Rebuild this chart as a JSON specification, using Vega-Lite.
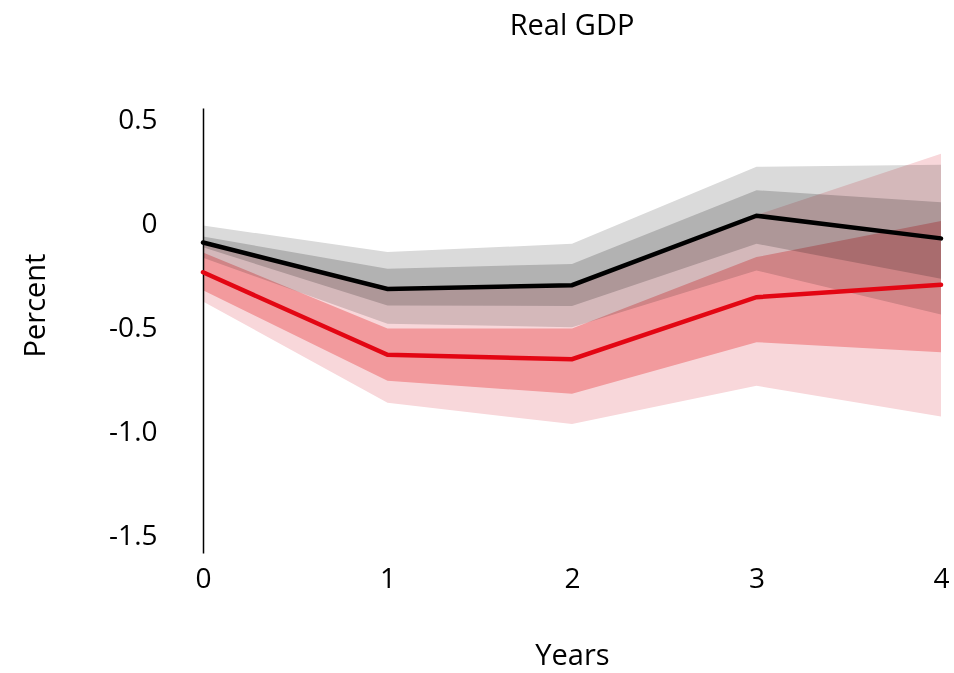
{
  "$schema": "https://vega.github.io/schema/vega-lite/v6.json",
  "width": 738,
  "height": 445,
  "autosize": {"type": "none"},
  "padding": {"left": 203, "top": 108, "right": 13, "bottom": 120},
  "background": "white",
  "title": {"text": "Real GDP", "anchor": "middle", "fontSize": 29, "font": "Open Sans", "fontWeight": "normal", "color": "black", "offset": 65},
  "config": {"view": {"stroke": null}},
  "data": {"values": [
    {"year": 0, "g_hi90": -0.005, "g_hi68": -0.058, "g": -0.087, "g_lo68": -0.11, "g_lo90": -0.16, "r_hi90": -0.09, "r_hi68": -0.135, "r": -0.23, "r_lo68": -0.317, "r_lo90": -0.37},
    {"year": 1, "g_hi90": -0.133, "g_hi68": -0.213, "g": -0.31, "g_lo68": -0.39, "g_lo90": -0.478, "r_hi90": -0.30, "r_hi68": -0.50, "r": -0.627, "r_lo68": -0.752, "r_lo90": -0.858},
    {"year": 2, "g_hi90": -0.093, "g_hi68": -0.19, "g": -0.292, "g_lo68": -0.392, "g_lo90": -0.494, "r_hi90": -0.30, "r_hi68": -0.50, "r": -0.648, "r_lo68": -0.814, "r_lo90": -0.96},
    {"year": 3, "g_hi90": 0.277, "g_hi68": 0.165, "g": 0.042, "g_lo68": -0.093, "g_lo90": -0.221, "r_hi90": 0.045, "r_hi68": -0.157, "r": -0.35, "r_lo68": -0.566, "r_lo90": -0.776},
    {"year": 4, "g_hi90": 0.287, "g_hi68": 0.107, "g": -0.067, "g_lo68": -0.261, "g_lo90": -0.433, "r_hi90": 0.34, "r_hi68": 0.016, "r": -0.29, "r_lo68": -0.614, "r_lo90": -0.923}
  ]},
  "encoding": {
    "x": {"field": "year", "type": "quantitative",
      "scale": {"domain": [0, 4], "nice": false, "zero": false},
      "axis": {"title": "Years", "domain": false, "ticks": false, "grid": false, "values": [0, 1, 2, 3, 4], "format": "d", "labelFlush": false,
        "labelFontSize": 28, "labelFont": "Open Sans", "labelColor": "black", "labelPadding": 12,
        "titleFontSize": 29, "titleFont": "Open Sans", "titleFontWeight": "normal", "titleColor": "black", "titleY": 102, "titleBaseline": "middle"}}
  },
  "layer": [
    {"mark": {"type": "area", "color": "#f8d7da", "blend": "multiply", "opacity": 1},
     "encoding": {
       "y": {"field": "r_lo90", "type": "quantitative",
         "scale": {"domain": [-1.58, 0.56], "nice": false, "zero": false},
         "axis": {"title": "Percent", "values": [0.5, 0, -0.5, -1, -1.5], "grid": false, "ticks": false,
           "domain": true, "domainColor": "black", "domainWidth": 1.5,
           "labelExpr": "datum.value == 0 ? '0' : replace(format(datum.value, '.1f'), '\u2212', '-')",
           "labelFontSize": 28, "labelFont": "Open Sans", "labelColor": "black", "labelPadding": 46,
           "titleFontSize": 29, "titleFont": "Open Sans", "titleFontWeight": "normal", "titleColor": "black",
           "titleAngle": -90, "titleX": -168, "titleY": 197, "titleAlign": "center", "titleBaseline": "middle"}},
       "y2": {"field": "r_hi90"}}},
    {"mark": {"type": "area", "color": "#f9b7b8", "blend": "multiply", "opacity": 1},
     "encoding": {"y": {"field": "r_lo68", "type": "quantitative"}, "y2": {"field": "r_hi68"}}},
    {"mark": {"type": "area", "color": "#dadada", "blend": "multiply", "opacity": 1},
     "encoding": {"y": {"field": "g_lo90", "type": "quantitative"}, "y2": {"field": "g_hi90"}}},
    {"mark": {"type": "area", "color": "#d1d1d1", "blend": "multiply", "opacity": 1},
     "encoding": {"y": {"field": "g_lo68", "type": "quantitative"}, "y2": {"field": "g_hi68"}}},
    {"mark": {"type": "rule", "color": "black", "strokeWidth": 1.5},
     "encoding": {"y": {"datum": 0, "type": "quantitative"}}},
    {"mark": {"type": "line", "color": "#e30613", "strokeWidth": 4.5, "strokeCap": "round"},
     "encoding": {"y": {"field": "r", "type": "quantitative"}}},
    {"mark": {"type": "line", "color": "black", "strokeWidth": 4.5, "strokeCap": "round"},
     "encoding": {"y": {"field": "g", "type": "quantitative"}}}
  ]
}
